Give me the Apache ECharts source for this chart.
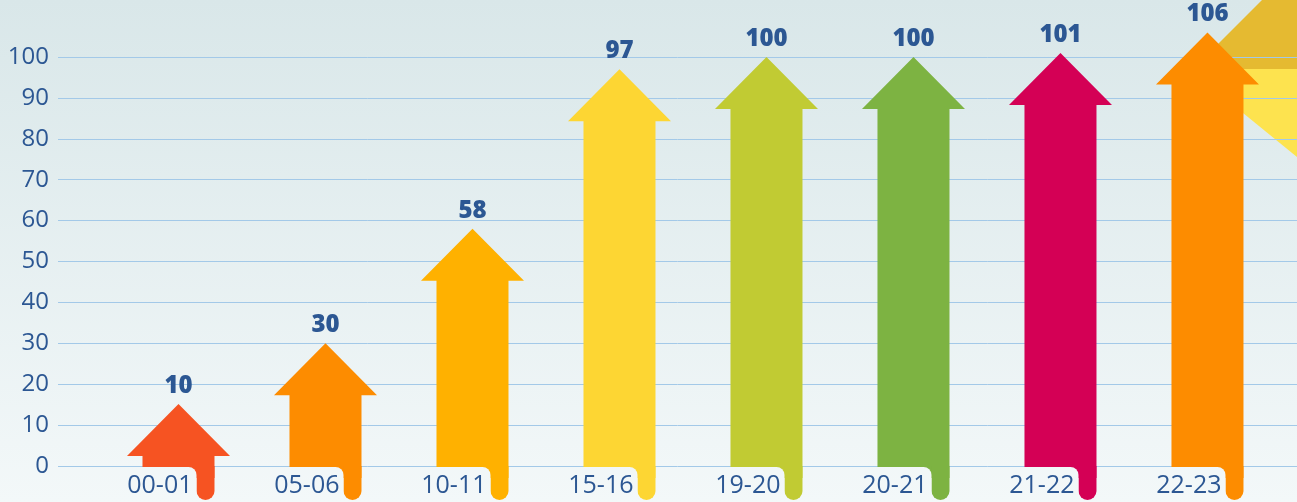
<!DOCTYPE html>
<html>
<head>
<meta charset="utf-8">
<script src="https://cdn.jsdelivr.net/npm/echarts@6/dist/echarts.min.js"></script>
<style>
html,body{margin:0;padding:0;background:#eef4f5;}
#c{width:1297px;height:502px;}
</style>
</head>
<body>
<div id="c"></div>
<script>
// ---- data ----
const categories = ['00-01', '05-06', '10-11', '15-16', '19-20', '20-21', '21-22', '22-23'];
const values = [10, 30, 58, 97, 100, 100, 101, 106];
const yTicks = [0, 10, 20, 30, 40, 50, 60, 70, 80, 90, 100];

// ---- styles ----
const palette = ['#f65322', '#fd8c00', '#ffb100', '#fdd633', '#c1cb33', '#7db342', '#d40055', '#fd8c00'];
const textColor = '#2c5793';
const gridColor = '#a3c9e8';

const chart = echarts.init(document.getElementById('c'));
const bgGrad = () => new echarts.graphic.LinearGradient(0, 0, 0, 502, [
  { offset: 0, color: '#d9e7e9' },
  { offset: 1, color: '#f3f8f9' }
], true);

const HEAD_H = 52, HEAD_HW = 51.5, BODY_HW = 36, STRIP_W = 18, CORNER = 8;

chart.setOption({
  backgroundColor: bgGrad(),
  animation: false,
  graphic: {
    elements: [
      { type: 'polygon', z: -10, silent: true,
        shape: { points: [[1262, 0], [1297, 0], [1297, 69], [1193, 69]] },
        style: { fill: '#e5ba31' } },
      { type: 'polygon', z: -10, silent: true,
        shape: { points: [[1189, 69], [1297, 69], [1297, 157]] },
        style: { fill: '#fde34f' } }
    ]
  },
  grid: { left: 58, right: 0, top: 57, bottom: 36, containLabel: false },
  xAxis: {
    type: 'value', min: -0.8197, max: 7.609, show: false
  },
  yAxis: {
    type: 'value', min: 0, max: 100, interval: 10, z: 1,
    axisLine: { show: false }, axisTick: { show: false },
    axisLabel: {
      margin: 9, color: textColor, fontSize: 24, fontFamily: 'Open Sans',
      formatter: v => (yTicks.indexOf(v) >= 0 ? String(v) : '')
    },
    splitLine: { lineStyle: { color: gridColor, width: 1 } }
  },
  series: [{
    type: 'custom',
    clip: false,
    z: 5,
    data: values.map((v, i) => [i, v]),
    renderItem: function (params, api) {
      const i = api.value(0);
      const v = api.value(1);
      const tip = api.coord([i, v]);
      const zero = api.coord([i, 0]);
      const cx = tip[0];
      const zy = zero[1];
      let ty = Math.min(tip[1], zy - HEAD_H - 10);
      const sy = ty + HEAD_H;
      const col = palette[i];
      const bottom = 500;
      return {
        type: 'group',
        children: [
          { type: 'polygon',
            shape: { points: [
              [cx, ty], [cx + HEAD_HW, sy], [cx + BODY_HW, sy], [cx + BODY_HW, zy + 12],
              [cx - BODY_HW, zy + 12], [cx - BODY_HW, sy], [cx - HEAD_HW, sy]
            ] },
            style: { fill: col } },
          { type: 'rect',
            shape: { x: cx + BODY_HW - STRIP_W, y: zy, width: STRIP_W, height: bottom - zy, r: [0, 0, 9, 9] },
            style: { fill: col } },
          { type: 'rect',
            shape: { x: cx - BODY_HW - 30, y: zy + 1, width: BODY_HW * 2 - STRIP_W + 30, height: 40, r: [0, CORNER, 0, 0] },
            style: { fill: bgGrad() } },
          { type: 'text',
            style: { text: String(v), x: cx, y: ty - 6, align: 'center', verticalAlign: 'bottom',
              fill: textColor, fontSize: 24, fontWeight: 800, fontFamily: 'Open Sans' } },
          { type: 'text',
            style: { text: categories[i], x: cx + BODY_HW - STRIP_W - 4, y: 486, align: 'right', verticalAlign: 'middle',
              fill: textColor, fontSize: 25, fontFamily: 'Open Sans' } }
        ]
      };
    }
  }]
});
</script>
</body>
</html>
